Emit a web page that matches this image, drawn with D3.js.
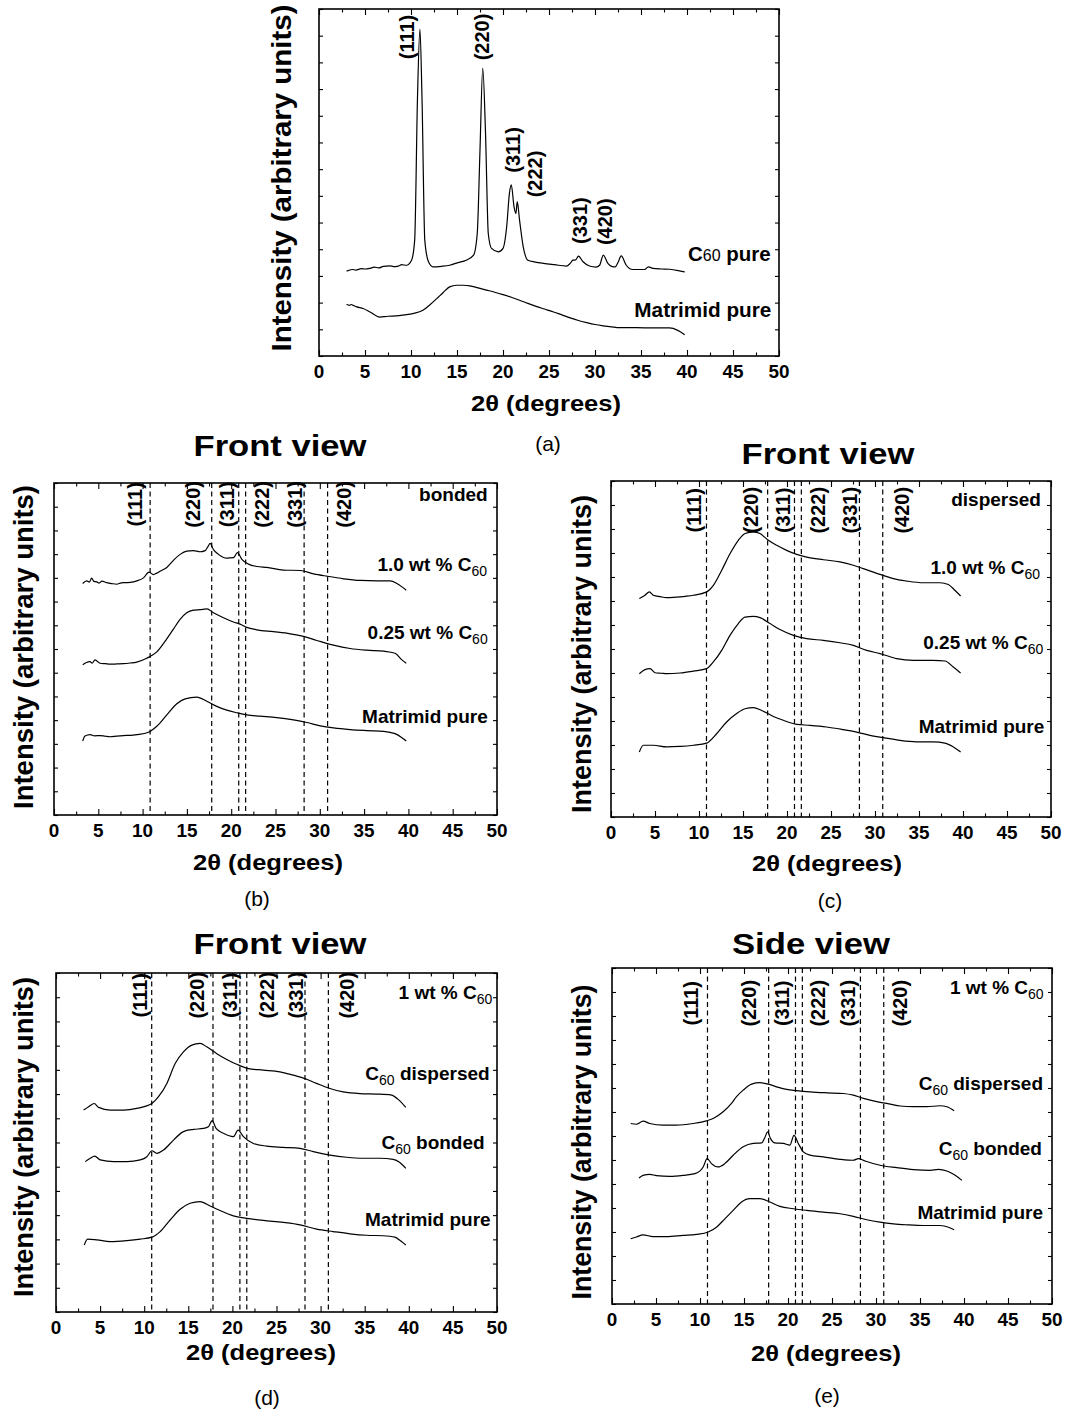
<!DOCTYPE html>
<html><head><meta charset="utf-8">
<script src="https://cdn.jsdelivr.net/npm/d3@7"></script>
<style>
body{margin:0;background:#fff}
svg{display:block}
text{font-family:"Liberation Sans",Arial,Helvetica,sans-serif;fill:#000}
</style>
</head><body>
<svg id="chart" width="1077" height="1412"></svg>
<script>
// ---------------- DATA ----------------
const xMajorTicks = [0,5,10,15,20,25,30,35,40,45,50];
const xMinorTicks = [2.5,7.5,12.5,17.5,22.5,27.5,32.5,37.5,42.5,47.5];
const xTickLabels = ["0","5","10","15","20","25","30","35","40","45","50"];
const peakPositions = [10.85,17.8,20.85,21.63,28.23,30.88];
const hklLabels = ["(111)","(220)","(311)","(222)","(331)","(420)"];

// (a) reference patterns
const aC60Pure = [[3.0,3.18],[3.6,3.24],[4.0,3.22],[4.6,3.27],[5.0,3.26],[5.5,3.28],[6.0,3.33],[6.5,3.3],[7.0,3.36],[7.7,3.38],[8.1,3.35],[8.6,3.37],[9.0,3.42],[9.5,3.40],[10.06,3.59],[10.4,4.34],[10.7,9.6],[10.97,12.25],[11.2,9.6],[11.5,4.34],[11.9,3.53],[12.4,3.34],[13.3,3.36],[14.2,3.40],[15.1,3.5],[16.0,3.59],[16.8,3.78],[17.2,4.59],[17.5,7.72],[17.8,10.79],[18.1,8.35],[18.4,4.59],[18.75,4.03],[19.5,3.9],[20.0,4.03],[20.4,4.84],[20.7,6.1],[20.9,6.41],[21.2,5.59],[21.4,5.34],[21.55,5.78],[21.8,5.09],[22.2,4.09],[22.7,3.59],[23.5,3.52],[24.4,3.47],[25.6,3.42],[26.9,3.37],[27.3,3.47],[27.6,3.59],[27.9,3.6],[28.2,3.74],[28.7,3.53],[29.4,3.37],[30.1,3.33],[30.5,3.40],[30.9,3.78],[31.4,3.47],[31.8,3.36],[32.2,3.34],[32.5,3.5],[32.85,3.75],[33.4,3.40],[34.1,3.24],[35.4,3.24],[35.8,3.34],[36.3,3.28],[37.2,3.26],[38.1,3.25],[39.2,3.19],[39.75,3.15]];
const aMatrimidPure = [[3.0,1.94],[3.3,1.90],[3.5,1.93],[3.8,1.88],[4.1,1.84],[4.8,1.78],[5.54,1.65],[6.6,1.46],[7.5,1.49],[8.4,1.50],[9.3,1.54],[10.2,1.59],[11.3,1.71],[12.0,1.9],[12.8,2.15],[13.5,2.38],[14.2,2.59],[14.95,2.65],[15.7,2.65],[16.4,2.63],[17.3,2.55],[18.2,2.47],[19.1,2.39],[20.0,2.30],[20.9,2.2],[21.8,2.09],[22.7,1.97],[23.6,1.86],[24.5,1.76],[25.5,1.65],[26.4,1.54],[27.3,1.43],[28.2,1.33],[29.1,1.25],[30.0,1.18],[30.9,1.13],[31.8,1.09],[32.7,1.06],[34.5,1.06],[36.3,1.05],[38.1,1.05],[39.0,0.96],[39.75,0.80]];

// (b) front view, bonded
const bBonded10 = [[3.24,9.76],[3.69,9.87],[4.0,9.82],[4.25,9.99],[4.5,9.85],[4.82,9.83],[5.1,9.78],[5.4,9.86],[5.95,9.80],[6.5,9.76],[7.08,9.73],[7.6,9.79],[8.21,9.80],[8.8,9.82],[9.34,9.87],[10.1,10.0],[10.73,10.24],[11.22,10.14],[11.6,10.2],[11.97,10.28],[12.73,10.44],[13.48,10.74],[14.23,10.99],[14.98,11.13],[15.74,11.15],[16.49,11.10],[17.06,11.15],[17.39,11.33],[17.62,11.45],[18.0,11.19],[18.56,10.99],[19.5,10.83],[20.26,10.85],[20.7,11.06],[21.2,10.78],[21.95,10.58],[22.9,10.48],[24.02,10.44],[25.9,10.33],[27.8,10.31],[29.3,10.17],[30.8,10.07],[32.7,9.96],[34.56,9.89],[36.45,9.87],[37.95,9.87],[38.7,9.76],[39.27,9.62],[39.76,9.48]];
const bBonded025 = [[3.24,6.34],[3.6,6.42],[4.07,6.47],[4.3,6.40],[4.63,6.54],[5.2,6.40],[5.8,6.38],[6.33,6.36],[7.1,6.37],[7.83,6.38],[8.6,6.41],[9.34,6.45],[10.47,6.61],[11.6,6.88],[12.73,7.43],[13.48,7.84],[14.23,8.25],[14.98,8.53],[15.74,8.64],[16.49,8.66],[17.24,8.69],[18.0,8.53],[19.13,8.32],[20.26,8.14],[21.0,8.05],[21.76,7.91],[22.9,7.81],[24.77,7.73],[26.66,7.64],[28.16,7.53],[29.67,7.36],[31.55,7.16],[33.43,7.02],[35.3,6.95],[37.2,6.91],[38.5,6.82],[39.27,6.54],[39.76,6.40]];
const bMatrimidPure = [[3.24,3.12],[3.5,3.33],[4.07,3.39],[4.6,3.34],[5.2,3.35],[5.8,3.32],[6.33,3.30],[7.1,3.33],[7.83,3.35],[8.6,3.36],[9.34,3.39],[10.66,3.49],[11.6,3.74],[12.73,4.22],[13.86,4.69],[14.8,4.90],[16.11,4.97],[17.24,4.80],[18.37,4.58],[19.5,4.42],[20.63,4.31],[21.76,4.22],[23.27,4.17],[25.15,4.11],[27.03,4.01],[28.54,3.90],[30.05,3.76],[31.55,3.67],[33.43,3.60],[35.3,3.56],[37.2,3.53],[38.5,3.43],[39.27,3.26],[39.76,3.12]];

// (c) front view, dispersed
const cDispersed10 = [[3.22,9.10],[3.86,9.24],[4.36,9.38],[4.81,9.24],[5.6,9.18],[6.33,9.14],[7.1,9.15],[7.84,9.17],[8.6,9.2],[9.36,9.24],[10.87,9.38],[11.63,9.65],[12.58,10.28],[13.52,10.97],[14.47,11.53],[15.23,11.81],[16.17,11.88],[16.93,11.81],[17.88,11.53],[18.83,11.32],[19.96,11.11],[21.1,10.94],[22.23,10.83],[24.13,10.72],[26.02,10.63],[27.54,10.49],[28.67,10.35],[30.57,10.11],[32.08,9.93],[33.6,9.83],[35.49,9.76],[37.39,9.76],[38.33,9.69],[39.1,9.44],[39.73,9.21]];
const cDispersed025 = [[3.22,5.97],[3.86,6.14],[4.43,6.18],[5.0,6.01],[5.7,5.99],[6.33,5.97],[7.84,6.0],[9.36,6.08],[10.87,6.18],[11.63,6.46],[12.58,6.94],[13.52,7.57],[14.47,8.06],[15.23,8.33],[16.17,8.36],[16.93,8.31],[18.07,8.06],[19.2,7.81],[20.72,7.57],[22.23,7.43],[24.13,7.36],[26.02,7.26],[27.54,7.15],[29.05,6.94],[30.57,6.81],[32.46,6.60],[34.36,6.53],[36.63,6.53],[37.95,6.50],[38.9,6.25],[39.73,6.0]];
const cMatrimidPure = [[3.22,2.71],[3.67,2.99],[4.81,2.99],[6.33,2.92],[7.84,2.94],[9.36,2.99],[10.87,3.08],[12.0,3.47],[13.14,3.96],[14.28,4.31],[15.23,4.51],[16.17,4.56],[17.12,4.44],[18.45,4.19],[19.58,4.03],[21.1,3.86],[22.61,3.82],[24.5,3.75],[26.4,3.64],[27.92,3.54],[29.43,3.40],[30.95,3.31],[32.84,3.19],[34.73,3.13],[36.63,3.13],[37.95,3.08],[38.9,2.92],[39.73,2.71]];

// (d) front view, 1 wt %
const dDispersed = [[3.13,8.34],[3.7,8.48],[4.34,8.61],[4.83,8.45],[6.15,8.34],[7.66,8.34],[9.17,8.41],[10.87,8.61],[11.62,8.89],[12.57,9.44],[13.51,10.26],[14.45,10.74],[15.4,11.02],[16.34,11.09],[17.09,10.95],[18.23,10.67],[19.36,10.43],[20.49,10.23],[21.81,10.05],[23.51,9.99],[25.4,9.92],[26.9,9.78],[28.23,9.64],[29.55,9.44],[31.06,9.23],[32.57,9.09],[34.45,9.02],[36.34,9.0],[38.04,8.96],[38.79,8.78],[39.66,8.45]];
const dBonded = [[3.32,6.21],[3.89,6.35],[4.38,6.44],[5.02,6.28],[6.53,6.21],[8.04,6.21],[9.55,6.28],[10.3,6.41],[10.87,6.66],[11.43,6.55],[12.19,6.69],[13.32,7.10],[14.45,7.45],[15.58,7.54],[16.72,7.58],[17.28,7.65],[17.7,7.90],[18.15,7.58],[18.98,7.38],[20.11,7.24],[20.64,7.51],[21.25,7.24],[22.38,6.96],[23.89,6.85],[25.77,6.80],[27.66,6.76],[29.17,6.62],[31.06,6.48],[32.94,6.39],[34.83,6.35],[36.72,6.35],[38.23,6.30],[38.98,6.17],[39.66,5.93]];
const dMatrimidPure = [[3.21,2.77],[3.58,3.01],[4.64,2.98],[6.15,2.91],[8.04,2.95],[9.55,3.01],[10.87,3.09],[11.81,3.32],[12.94,3.80],[14.08,4.24],[15.21,4.49],[16.34,4.56],[17.47,4.38],[18.6,4.19],[20.11,3.97],[21.62,3.87],[23.51,3.78],[25.77,3.70],[27.66,3.60],[29.55,3.42],[31.43,3.32],[33.32,3.23],[35.21,3.17],[37.09,3.15],[38.42,3.09],[39.17,2.91],[39.66,2.77]];

// (e) side view, 1 wt %
const eDispersed = [[2.12,7.52],[2.77,7.49],[3.53,7.62],[4.29,7.52],[5.8,7.45],[7.32,7.45],[9.22,7.52],[10.74,7.63],[11.49,7.73],[12.63,8.01],[13.58,8.36],[14.15,8.64],[14.91,8.91],[15.86,9.16],[16.81,9.22],[17.75,9.16],[18.7,9.05],[19.84,8.94],[20.98,8.89],[22.5,8.84],[24.39,8.80],[26.29,8.77],[27.43,8.70],[28.57,8.57],[30.08,8.43],[31.6,8.33],[32.74,8.25],[34.26,8.22],[35.77,8.22],[37.29,8.26],[38.05,8.22],[38.88,8.05]];
const eBonded = [[3.07,5.25],[3.53,5.36],[4.29,5.40],[5.05,5.35],[6.56,5.32],[8.08,5.36],[9.41,5.43],[10.36,5.71],[10.81,6.06],[11.3,5.85],[12.06,5.71],[12.82,5.85],[13.77,6.20],[14.91,6.55],[16.05,6.69],[17.0,6.71],[17.37,6.94],[17.68,7.17],[18.02,6.89],[18.51,6.71],[19.46,6.69],[20.22,6.62],[20.68,7.03],[21.17,6.69],[21.74,6.34],[22.5,6.20],[24.01,6.13],[25.91,6.03],[27.43,5.99],[28.0,6.06],[28.76,5.96],[30.46,5.78],[32.36,5.68],[34.26,5.60],[36.15,5.57],[37.1,5.61],[38.05,5.54],[39.0,5.36],[39.76,5.15]];
const eMatrimidPure = [[2.12,2.72],[2.77,2.79],[3.53,2.88],[4.67,2.81],[6.18,2.81],[8.08,2.86],[9.6,2.90],[10.93,3.0],[11.87,3.20],[12.82,3.55],[13.77,3.90],[14.72,4.25],[15.67,4.39],[16.81,4.39],[17.94,4.25],[19.08,4.07],[20.6,3.97],[22.12,3.90],[24.01,3.83],[25.91,3.76],[27.43,3.65],[28.95,3.51],[30.46,3.41],[31.98,3.34],[33.5,3.30],[35.39,3.27],[37.29,3.27],[38.24,3.20],[38.88,3.09]];

// ---------------- LAYOUT ----------------
const sub = (t) => ({t, size:14, weight:"normal", dy:5});
const panels = [
  {letter:"(a)", frame:[319,779,9,356], ymax:13, dashed:false, title:null,
   curves:[aC60Pure, aMatrimidPure],
   hkl:[[9.52,11.95],[17.67,11.95],[21.1,7.72],[23.46,6.82],[28.35,5.07],[31.06,5.03]],
   labels:[
     {x:49.1,y:3.84,parts:[{t:"C"},{t:"60",size:16,weight:"normal"},{t:" pure"}],size:20.5},
     {x:49.17,y:1.71,parts:"Matrimid pure",size:20,len:137}
   ],
   ylab:[282,178,347], xtitle:[546,403], tickY:372, letterPos:[548,443]},
  {letter:"(b)", frame:[54,497,483,815], ymax:14, dashed:true, title:["Front view",280,445,173],
   curves:[bBonded10,bBonded025,bMatrimidPure],
   hkl:[9.15,15.74,19.5,23.46,27.22,32.68].map(x=>[x,13.1]),
   labels:[
     {x:48.95,y:13.5,parts:"bonded",size:19},
     {x:48.87,y:10.58,parts:[{t:"1.0 wt % C"},sub("60")],size:19},
     {x:48.95,y:7.70,parts:[{t:"0.25 wt % C"},sub("60")],size:19},
     {x:48.95,y:4.15,parts:"Matrimid pure",size:19}
   ],
   ylab:[24,647,324], xtitle:[268,862], tickY:831, letterPos:[257,898]},
  {letter:"(c)", frame:[611,1051,481,817], ymax:14, dashed:true, title:["Front view",828,453,173],
   curves:[cDispersed10,cDispersed025,cMatrimidPure],
   hkl:[9.43,15.87,19.5,23.56,27.16,33.03].map(x=>[x,12.78]),
   labels:[
     {x:48.86,y:13.25,parts:"dispersed",size:19},
     {x:48.75,y:10.42,parts:[{t:"1.0 wt % C"},sub("60")],size:19},
     {x:49.13,y:7.29,parts:[{t:"0.25 wt % C"},sub("60")],size:19},
     {x:49.24,y:3.78,parts:"Matrimid pure",size:19}
   ],
   ylab:[582,654,318], xtitle:[827,863], tickY:833, letterPos:[830,900]},
  {letter:"(d)", frame:[56,497,973,1312], ymax:14, dashed:true, title:["Front view",280,943,173],
   curves:[dDispersed,dBonded,dMatrimidPure],
   hkl:[9.47,15.96,19.74,23.89,27.21,32.94].map(x=>[x,13.08]),
   labels:[
     {x:49.47,y:13.2,parts:[{t:"1 wt % C"},sub("60")],size:19},
     {x:49.17,y:9.85,parts:[{t:"C"},sub("60"),{t:" dispersed",dy:-5}],size:19},
     {x:48.6,y:7.03,parts:[{t:"C"},sub("60"),{t:" bonded",dy:-5}],size:19},
     {x:49.28,y:3.80,parts:"Matrimid pure",size:19}
   ],
   ylab:[24,1137,320], xtitle:[261,1352], tickY:1328, letterPos:[267,1397]},
  {letter:"(e)", frame:[612,1052,968,1304], ymax:14, dashed:true, title:["Side view",811,943,158],
   curves:[eDispersed,eBonded,eMatrimidPure],
   hkl:[9.03,15.59,19.27,23.44,26.86,32.74].map(x=>[x,12.53]),
   labels:[
     {x:49.05,y:13.2,parts:[{t:"1 wt % C"},sub("60")],size:19},
     {x:48.98,y:9.19,parts:[{t:"C"},sub("60"),{t:" dispersed",dy:-5}],size:19},
     {x:48.86,y:6.48,parts:[{t:"C"},sub("60"),{t:" bonded",dy:-5}],size:19},
     {x:48.98,y:3.83,parts:"Matrimid pure",size:19}
   ],
   ylab:[582,1142,315], xtitle:[826,1353], tickY:1320, letterPos:[827,1395]}
];

// ---------------- DRAW ----------------
const svg = d3.select("#chart");

function addText(parent, x, y, parts, o) {
  const mixed = typeof parts !== "string";
  const t = parent.append("text")
    .attr("transform", `translate(${x},${mixed ? y + o.size*0.36 : y}) rotate(${o.rot||0})`)
    .attr("text-anchor", o.anchor || "middle")
    .attr("dominant-baseline", mixed ? "alphabetic" : "central")
    .style("font-size", o.size + "px")
    .style("font-weight", o.weight || "bold");
  if (!mixed) t.text(parts);
  else parts.forEach(p => {
    const s = t.append("tspan").text(p.t);
    if (p.size) s.style("font-size", p.size + "px");
    if (p.weight) s.style("font-weight", p.weight);
    if (p.dy) s.attr("dy", p.dy);
  });
  if (o.len) t.attr("textLength", o.len).attr("lengthAdjust", "spacingAndGlyphs");
  return t;
}

panels.forEach(p => {
  const [x0,x1,y0,y1] = p.frame;
  const x = d3.scaleLinear().domain([0,50]).range([x0,x1]);
  const y = d3.scaleLinear().domain([0,p.ymax]).range([y1,y0]);
  const g = svg.append("g");
  const yT = d3.range(0, p.ymax + 1);

  const cleanup = sel => { sel.select(".domain").remove(); sel.selectAll("line").attr("stroke","#000").attr("stroke-width",1.1); sel.selectAll("text").remove(); };
  g.append("g").attr("transform",`translate(0,${y1})`).call(d3.axisBottom(x).tickValues(xMajorTicks).tickSize(-6).tickSizeOuter(0)).call(cleanup);
  g.append("g").attr("transform",`translate(0,${y1})`).call(d3.axisBottom(x).tickValues(xMinorTicks).tickSize(-3.5).tickSizeOuter(0)).call(cleanup);
  g.append("g").attr("transform",`translate(0,${y0})`).call(d3.axisTop(x).tickValues(xMajorTicks).tickSize(-6).tickSizeOuter(0)).call(cleanup);
  g.append("g").attr("transform",`translate(0,${y0})`).call(d3.axisTop(x).tickValues(xMinorTicks).tickSize(-3.5).tickSizeOuter(0)).call(cleanup);
  g.append("g").attr("transform",`translate(${x0},0)`).call(d3.axisLeft(y).tickValues(yT).tickSize(-4).tickSizeOuter(0)).call(cleanup);
  g.append("g").attr("transform",`translate(${x1},0)`).call(d3.axisRight(y).tickValues(yT).tickSize(-4).tickSizeOuter(0)).call(cleanup);

  if (p.dashed) {
    g.selectAll(".peak").data(peakPositions).join("line")
      .attr("x1", d => x(d)).attr("x2", d => x(d))
      .attr("y1", y0).attr("y2", y1)
      .attr("stroke","#000").attr("stroke-width",1.2).attr("stroke-dasharray","5,3.5");
  }

  const line = d3.line().x(d => x(d[0])).y(d => y(d[1])).curve(d3.curveMonotoneX);
  p.curves.forEach(c => g.append("path").attr("d", line(c)).attr("fill","none").attr("stroke","#000").attr("stroke-width",1.2));

  g.append("rect").attr("x",x0).attr("y",y0).attr("width",x1-x0).attr("height",y1-y0)
    .attr("fill","none").attr("stroke","#000").attr("stroke-width",1.6);

  p.hkl.forEach((h,i) => addText(g, x(h[0]), y(h[1]), hklLabels[i], {size:20, rot:-90}));
  p.labels.forEach(l => addText(g, x(l.x), y(l.y), l.parts, {size:l.size, anchor:"end", len:l.len}));
  xMajorTicks.forEach((v,i) => addText(g, x(v), p.tickY, xTickLabels[i], {size:17.5, len: xTickLabels[i].length*10.5}));

  addText(g, p.xtitle[0], p.xtitle[1], "2θ (degrees)", {size:22, len:150});
  addText(g, p.ylab[0], p.ylab[1], "Intensity (arbitrary units)", {size:27, rot:-90, len:p.ylab[2]});
  if (p.title) addText(g, p.title[1], p.title[2], p.title[0], {size:30, len:p.title[3]});
  addText(g, p.letterPos[0], p.letterPos[1], p.letter, {size:21, weight:"normal"});
});
</script>
</body></html>
